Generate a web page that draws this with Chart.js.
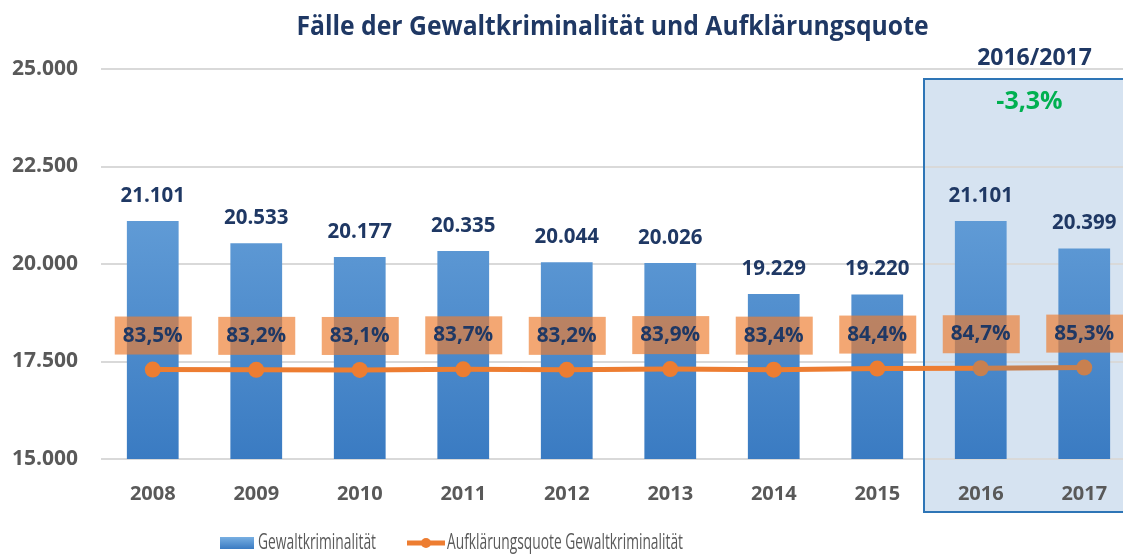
<!DOCTYPE html>
<html lang="de">
<head>
<meta charset="utf-8">
<script src="https://cdn.jsdelivr.net/npm/chart.js@4"></script>
<style>
  html, body { margin: 0; padding: 0; background: #fff; overflow: hidden; }
  #wrap { width: 1144px; height: 554px; }
</style>
</head>
<body>
<div id="wrap"><canvas id="chart" width="1144" height="554"></canvas></div>
<script>
const YEARS = ["2008", "2009", "2010", "2011", "2012", "2013", "2014", "2015", "2016", "2017"];
const CASES = [21101, 20533, 20177, 20335, 20044, 20026, 19229, 19220, 21101, 20399];
const QUOTE = [83.5, 83.2, 83.1, 83.7, 83.2, 83.9, 83.4, 84.4, 84.7, 85.3];
const Y_MIN = 15000;
const Y_MAX = 25000;
const Y_STEP = 2500;

const TITLE = "Fälle der Gewaltkriminalität und Aufklärungsquote";
const BOX_TITLE = "2016/2017";
const BOX_CHANGE = "-3,3%";
const LEGEND_BARS = "Gewaltkriminalität";
const LEGEND_LINE = "Aufklärungsquote Gewaltkriminalität";

const NAVY = "#1F3864";
const GREY = "#595959";
const ORANGE = "#ED7D31";
const ORANGE_MUTED = "#C8804F";
const FONT = "'Open Sans', sans-serif";

function formatThousands(v) {
  return String(v).replace(/\B(?=(\d{3})+(?!\d))/g, ".");
}

function formatPercent(v) {
  return v.toFixed(1).replace(".", ",") + "%";
}

function barGradient(ctx, area) {
  const g = ctx.createLinearGradient(0, area.top, 0, area.bottom);
  g.addColorStop(0, "#78AFE2");
  g.addColorStop(1, "#3A7BC2");
  return g;
}

// 2016/2017 highlight frame
function boxRect(chart) {
  const { chartArea, scales } = chart;
  const left = (scales.x.getPixelForValue(7) + scales.x.getPixelForValue(8)) / 2 - 5;
  const top = chartArea.top + 10;
  const bottom = chartArea.bottom + 53;
  return { left, top, width: chart.width - left + 5, height: bottom - top };
}

const decorations = {
  id: "decorations",
  beforeDraw(chart) {
    const { ctx } = chart;
    const r = boxRect(chart);
    ctx.save();
    ctx.fillStyle = "#D6E3F1";
    ctx.fillRect(r.left, r.top, r.width, r.height);
    ctx.restore();
  },
  beforeDatasetsDraw(chart) {
    const { ctx } = chart;
    const r = boxRect(chart);
    ctx.save();
    ctx.strokeStyle = "#2E75B6";
    ctx.lineWidth = 2;
    ctx.strokeRect(r.left, r.top, r.width, r.height);
    ctx.restore();
  },
  afterDatasetsDraw(chart) {
    const { ctx } = chart;
    const bars = chart.getDatasetMeta(0).data;
    const points = chart.getDatasetMeta(1).data;
    ctx.save();
    ctx.textAlign = "center";
    ctx.textBaseline = "middle";
    ctx.font = `bold 20.5px ${FONT}`;
    ctx.fillStyle = NAVY;
    bars.forEach((bar, i) => {
      ctx.fillText(formatThousands(CASES[i]), bar.x, bar.y - 25);
    });
    ctx.font = `bold 21px ${FONT}`;
    points.forEach((pt, i) => {
      const cy = pt.y - 34;
      ctx.fillStyle = "rgba(237, 125, 49, 0.68)";
      ctx.fillRect(pt.x - 38, cy - 19, 77, 38);
      ctx.fillStyle = NAVY;
      ctx.fillText(formatPercent(QUOTE[i]), pt.x, cy, 60);
    });
    ctx.restore();
  },
  afterDraw(chart) {
    const { ctx, chartArea, scales } = chart;
    ctx.save();
    ctx.textAlign = "center";
    ctx.textBaseline = "middle";
    ctx.fillStyle = NAVY;
    ctx.font = `bold 26px ${FONT}`;
    ctx.fillText(TITLE, (chartArea.left + chartArea.right) / 2 - 6, 28, 632);

    const boxX = (scales.x.getPixelForValue(8) + scales.x.getPixelForValue(9)) / 2;
    ctx.font = `bold 23px ${FONT}`;
    ctx.fillText(BOX_TITLE, boxX + 2, 58, 118);
    ctx.fillStyle = "#00B050";
    ctx.font = `bold 25px ${FONT}`;
    ctx.fillText(BOX_CHANGE, boxX - 3, 102, 67);

    // legend
    const ly = 543;
    ctx.fillStyle = barGradient(ctx, { top: ly - 6, bottom: ly + 6 });
    ctx.fillRect(220, ly - 6, 34, 12);
    ctx.fillStyle = GREY;
    ctx.font = `22px ${FONT}`;
    ctx.textAlign = "left";
    ctx.fillText(LEGEND_BARS, 258, ly, 118);
    ctx.strokeStyle = ORANGE;
    ctx.lineWidth = 5;
    ctx.beginPath();
    ctx.moveTo(407, ly);
    ctx.lineTo(445, ly);
    ctx.stroke();
    ctx.fillStyle = ORANGE;
    ctx.beginPath();
    ctx.arc(426, ly, 5, 0, Math.PI * 2);
    ctx.fill();
    ctx.fillStyle = GREY;
    ctx.fillText(LEGEND_LINE, 447, ly, 236);
    ctx.restore();
  },
};

new Chart(document.getElementById("chart"), {
  data: {
    labels: YEARS,
    datasets: [
      {
        type: "bar",
        label: LEGEND_BARS,
        data: CASES,
        yAxisID: "y",
        backgroundColor: (c) => {
          const area = c.chart.chartArea;
          if (!area) return "#5B9BD5";
          return barGradient(c.chart.ctx, area);
        },
        categoryPercentage: 1,
        barPercentage: 0.5,
        order: 2,
      },
      {
        type: "line",
        label: LEGEND_LINE,
        data: QUOTE,
        yAxisID: "y2",
        borderColor: ORANGE,
        borderWidth: 5,
        pointRadius: 8,
        pointHoverRadius: 8,
        pointBorderWidth: 0,
        pointBackgroundColor: QUOTE.map((_, i) => (i >= 8 ? ORANGE_MUTED : ORANGE)),
        segment: {
          borderColor: (c) => (c.p0DataIndex >= 8 ? ORANGE_MUTED : ORANGE),
        },
        tension: 0,
        order: 1,
      },
    ],
  },
  options: {
    responsive: false,
    animation: false,
    layout: { padding: { top: 69, right: 1, left: 0, bottom: 0 } },
    plugins: {
      legend: { display: false },
      title: { display: false },
      tooltip: { enabled: false },
    },
    scales: {
      x: {
        grid: { display: false },
        border: { display: false },
        ticks: {
          color: GREY,
          font: { family: FONT, size: 20, weight: "bold" },
          padding: 15,
        },
        afterFit: (scale) => { scale.height = 95; },
      },
      y: {
        min: Y_MIN,
        max: Y_MAX,
        grid: { color: "#D9D9D9", lineWidth: 2, drawTicks: false },
        border: { display: false },
        ticks: {
          stepSize: Y_STEP,
          color: GREY,
          padding: 23,
          font: { family: FONT, size: 21, weight: "bold" },
          callback: (v) => formatThousands(v),
        },
        afterFit: (scale) => { scale.width = 101; },
      },
      y2: {
        display: false,
        min: 0,
        max: 364,
      },
    },
  },
  plugins: [decorations],
});
</script>
</body>
</html>
